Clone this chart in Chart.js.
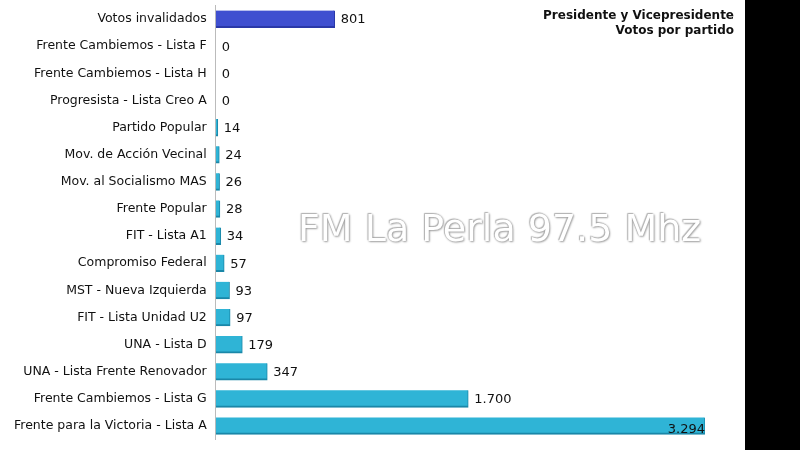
<!DOCTYPE html>
<html>
<head>
<meta charset="utf-8">
<script src="https://cdn.jsdelivr.net/npm/chart.js@4"></script>
<style>
  body { margin: 0; background: #fff; }
  #wrap { position: relative; width: 800px; height: 450px; overflow: hidden; }
  #c { position: absolute; left: 0; top: -11px; }
  #side { position: absolute; right: 0; top: 0; width: 55px; height: 450px; background: #000; }
  #title { position: absolute; right: 66px; top: 8px; text-align: right; font: bold 12px "DejaVu Sans", sans-serif; color: #111; line-height: 15px; }
  #mark { position: absolute; left: 298px; top: 206px; font: 38px "DejaVu Sans", sans-serif; color: #fff;
          text-shadow: 0 0 2px #999, 1px 1px 2px #aaa, -1px -1px 1px #bbb; }
</style>
</head>
<body>
<div id="wrap">
  <canvas id="c" width="745" height="467"></canvas>
  <div id="side"></div>
  <div id="title">Presidente y Vicepresidente<br>Votos por partido</div>
  <div id="mark">FM La Perla 97.5 Mhz</div>
</div>
<script>
const parties = [
  'Votos invalidados', 'Frente Cambiemos - Lista F', 'Frente Cambiemos - Lista H',
  'Progresista - Lista Creo A', 'Partido Popular', 'Mov. de Acción Vecinal',
  'Mov. al Socialismo MAS', 'Frente Popular', 'FIT - Lista A1', 'Compromiso Federal',
  'MST - Nueva Izquierda', 'FIT - Lista Unidad U2', 'UNA - Lista D',
  'UNA - Lista Frente Renovador', 'Frente Cambiemos - Lista G', 'Frente para la Victoria - Lista A'
];
const votes = [801, 0, 0, 0, 14, 24, 26, 28, 34, 57, 93, 97, 179, 347, 1700, 3294];

const fmt = v => v.toLocaleString('de-DE');

const valueLabels = {
  id: 'valueLabels',
  afterDatasetsDraw(chart) {
    const ctx = chart.ctx;
    ctx.save();
    ctx.font = '13px "DejaVu Sans", sans-serif';
    ctx.fillStyle = '#111';
    ctx.textBaseline = 'middle';
    chart.getDatasetMeta(0).data.forEach((bar, i) => {
      const txt = fmt(votes[i]);
      if (i === votes.length - 1) {
        ctx.textAlign = 'right';
        ctx.fillText(txt, bar.x, bar.y + 4);
      } else {
        ctx.textAlign = 'left';
        ctx.fillText(txt, bar.x + 6, bar.y + 1);
      }
    });
    ctx.restore();
  }
};

const ctx = document.getElementById('c').getContext('2d');
new Chart(ctx, {
  type: 'bar',
  data: {
    labels: parties,
    datasets: [{
      data: votes,
      backgroundColor: c => c.dataIndex === 0 ? '#3f4fd0' : '#2fb4d6',
      borderColor: c => c.dataIndex === 0 ? '#2a38a8' : '#1a87a8',
      borderWidth: { bottom: 2, right: 1 },
      borderSkipped: 'left',
      barThickness: 17
    }]
  },
  options: {
    indexAxis: 'y',
    responsive: false,
    animation: false,
    layout: { padding: { top: 0, bottom: 0, right: 40, left: 5 } },
    plugins: { legend: { display: false }, tooltip: { enabled: false } },
    scales: {
      x: { min: 0, max: 3294, display: false },
      y: {
        grid: { display: false, drawTicks: false },
        border: { color: '#bbb' },
        ticks: { color: '#111', font: { family: '"DejaVu Sans", sans-serif', size: 12.5 }, padding: 9 }
      }
    }
  },
  plugins: [valueLabels]
});
</script>
</body>
</html>
